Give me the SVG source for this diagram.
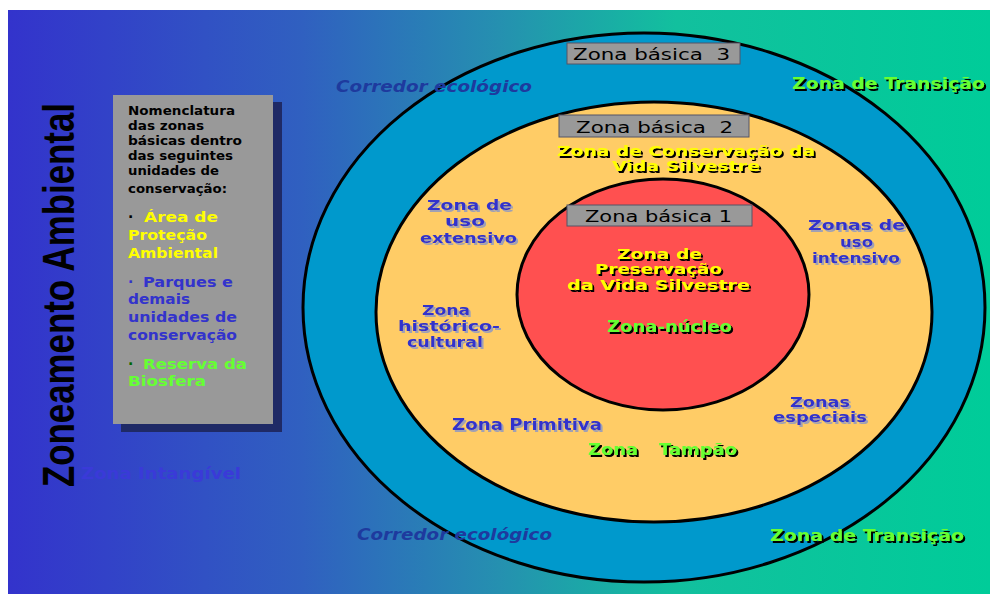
<svg xmlns="http://www.w3.org/2000/svg" width="990" height="594" viewBox="0 0 990 594">
<defs>
<linearGradient id="bg" x1="8" y1="0" x2="990" y2="0" gradientUnits="userSpaceOnUse">
<stop offset="0" stop-color="#3333CC"/>
<stop offset="0.3" stop-color="#3060C0"/>
<stop offset="0.5" stop-color="#2590B0"/>
<stop offset="0.68" stop-color="#12C09E"/>
<stop offset="1" stop-color="#00CC99"/>
</linearGradient>
<filter id="shK" x="-5%" y="-20%" width="115%" height="160%">
<feOffset in="SourceAlpha" dx="2" dy="2" result="o"/>
<feFlood flood-color="#000000"/>
<feComposite in2="o" operator="in" result="s"/>
<feMerge><feMergeNode in="s"/><feMergeNode in="SourceGraphic"/></feMerge>
</filter>
<filter id="shG" x="-5%" y="-20%" width="115%" height="160%">
<feOffset in="SourceAlpha" dx="2" dy="2" result="o"/>
<feFlood flood-color="#A0A0B4"/>
<feComposite in2="o" operator="in" result="s"/>
<feMerge><feMergeNode in="s"/><feMergeNode in="SourceGraphic"/></feMerge>
</filter>
</defs>
<style>
text{font-family:"DejaVu Sans",sans-serif;font-weight:bold;}
.ring{stroke:#000;stroke-width:3;}
.box{fill:#999999;stroke:#555566;stroke-width:1;}
.bt{font-weight:normal;font-size:16px;fill:#000;}
.pk{font-size:11.5px;fill:#000;}
.pl{font-size:14px;}
.lb{font-size:16px;fill:#3333CC;filter:url(#shG);}
.ly{font-size:16px;fill:#FFFF00;filter:url(#shK);}
.lg{font-size:16px;fill:#66FF33;filter:url(#shK);}
.lc{font-size:16px;fill:#1E3A9E;font-style:italic;}
.st{font-size:13.5px;}
</style>
<rect x="8" y="10" width="982" height="584" fill="url(#bg)"/>

<g id="title">
<text transform="translate(74,487) rotate(-90) scale(1,1.28)" font-size="35" fill="#000" textLength="384" lengthAdjust="spacingAndGlyphs" style="font-family:'Liberation Sans',sans-serif">Zoneamento Ambiental</text>
</g>

<g id="zona-intangivel">
<text x="81" y="479" font-size="16" fill="#3A3AD8" textLength="160" lengthAdjust="spacingAndGlyphs">Zona Intangível</text>
</g>

<g id="legend">
<rect x="121" y="102" width="161" height="330" fill="#1F2A66"/>
<rect x="113" y="95" width="160" height="329" fill="#999999"/>
<text class="pk" x="128" y="115" textLength="107" lengthAdjust="spacingAndGlyphs">Nomenclatura</text>
<text class="pk" x="128" y="130" textLength="76" lengthAdjust="spacingAndGlyphs">das zonas</text>
<text class="pk" x="128" y="145" textLength="114" lengthAdjust="spacingAndGlyphs">básicas dentro</text>
<text class="pk" x="128" y="160" textLength="105" lengthAdjust="spacingAndGlyphs">das seguintes</text>
<text class="pk" x="128" y="175" textLength="91" lengthAdjust="spacingAndGlyphs">unidades de</text>
<text class="pk" x="128" y="193" textLength="99" lengthAdjust="spacingAndGlyphs">conservação:</text>
<text class="pl" x="128" y="222" fill="#000">·</text>
<text class="pl" x="144" y="222" fill="#FFFF00" textLength="74" lengthAdjust="spacingAndGlyphs">Área de</text>
<text class="pl" x="128" y="240" fill="#FFFF00" textLength="79" lengthAdjust="spacingAndGlyphs">Proteção</text>
<text class="pl" x="128" y="258" fill="#FFFF00" textLength="90" lengthAdjust="spacingAndGlyphs">Ambiental</text>
<text class="pl" x="128" y="287" fill="#3333CC">·</text>
<text class="pl" x="143" y="287" fill="#3333CC" textLength="90" lengthAdjust="spacingAndGlyphs">Parques e</text>
<text class="pl" x="128" y="304" fill="#3333CC" textLength="62" lengthAdjust="spacingAndGlyphs">demais</text>
<text class="pl" x="128" y="322" fill="#3333CC" textLength="109" lengthAdjust="spacingAndGlyphs">unidades de</text>
<text class="pl" x="128" y="340" fill="#3333CC" textLength="109" lengthAdjust="spacingAndGlyphs">conservação</text>
<text class="pl" x="128" y="369" fill="#006600">·</text>
<text class="pl" x="143" y="369" fill="#66FF33" textLength="104" lengthAdjust="spacingAndGlyphs">Reserva da</text>
<text class="pl" x="128" y="386" fill="#66FF33" textLength="78" lengthAdjust="spacingAndGlyphs">Biosfera</text>
</g>

<g id="zona-basica-3">
<ellipse class="ring" cx="644" cy="307.5" rx="341" ry="274.5" fill="#0099CC"/>
</g>
<g id="zona-basica-2">
<ellipse class="ring" cx="654" cy="312" rx="278" ry="210" fill="#FFCC66"/>
</g>
<g id="zona-basica-1">
<ellipse class="ring" cx="663" cy="294.5" rx="146" ry="115.5" fill="#FF5050"/>
</g>

<g id="box-3">
<rect class="box" x="567" y="43" width="173" height="21"/>
<text class="bt" x="573" y="60" textLength="157" lengthAdjust="spacingAndGlyphs" xml:space="preserve">Zona básica  3</text>
</g>
<g id="box-2">
<rect class="box" x="559" y="115" width="190" height="22"/>
<text class="bt" x="576" y="133" textLength="157" lengthAdjust="spacingAndGlyphs" xml:space="preserve">Zona básica  2</text>
</g>
<g id="box-1">
<rect class="box" x="567" y="205" width="185" height="21"/>
<text class="bt" x="585" y="222" textLength="147" lengthAdjust="spacingAndGlyphs">Zona básica 1</text>
</g>

<g id="corredor-top"><text class="lc" x="336" y="92" textLength="196" lengthAdjust="spacingAndGlyphs">Corredor ecológico</text></g>
<g id="corredor-bottom"><text class="lc" x="357" y="540" textLength="195" lengthAdjust="spacingAndGlyphs">Corredor ecológico</text></g>
<g id="transicao-top"><text class="lg" x="792" y="89" textLength="193" lengthAdjust="spacingAndGlyphs">Zona de Transição</text></g>
<g id="transicao-bottom"><text class="lg" x="770" y="541" textLength="194" lengthAdjust="spacingAndGlyphs">Zona de Transição</text></g>

<g id="conservacao">
<text class="ly st" x="557" y="156" textLength="258" lengthAdjust="spacingAndGlyphs">Zona de Conservação da</text>
<text class="ly st" x="612" y="171" textLength="148" lengthAdjust="spacingAndGlyphs">Vida Silvestre</text>
</g>

<g id="uso-extensivo">
<text class="lb st" x="427" y="210" textLength="85" lengthAdjust="spacingAndGlyphs">Zona de</text>
<text class="lb st" x="445" y="226" textLength="40" lengthAdjust="spacingAndGlyphs">uso</text>
<text class="lb st" x="420" y="243" textLength="97" lengthAdjust="spacingAndGlyphs">extensivo</text>
</g>

<g id="historico-cultural">
<text class="lb st" x="422" y="315" textLength="48" lengthAdjust="spacingAndGlyphs">Zona</text>
<text class="lb st" x="398" y="331" textLength="102" lengthAdjust="spacingAndGlyphs">histórico-</text>
<text class="lb st" x="407" y="347" textLength="76" lengthAdjust="spacingAndGlyphs">cultural</text>
</g>

<g id="preservacao">
<text class="ly st" x="617" y="259" textLength="85" lengthAdjust="spacingAndGlyphs">Zona de</text>
<text class="ly st" x="595" y="274" textLength="127" lengthAdjust="spacingAndGlyphs">Preservação</text>
<text class="ly st" x="567" y="290" textLength="183" lengthAdjust="spacingAndGlyphs">da Vida Silvestre</text>
</g>

<g id="zona-nucleo"><text class="lg" x="607" y="332" textLength="125" lengthAdjust="spacingAndGlyphs">Zona-núcleo</text></g>

<g id="uso-intensivo">
<text class="lb st" x="808" y="230" textLength="97" lengthAdjust="spacingAndGlyphs">Zonas de</text>
<text class="lb st" x="840" y="247" textLength="33" lengthAdjust="spacingAndGlyphs">uso</text>
<text class="lb st" x="812" y="263" textLength="88" lengthAdjust="spacingAndGlyphs">intensivo</text>
</g>

<g id="zona-primitiva"><text class="lb" x="452" y="430" textLength="150" lengthAdjust="spacingAndGlyphs">Zona Primitiva</text></g>

<g id="zona-tampao">
<text class="lg" x="588" y="455" textLength="50" lengthAdjust="spacingAndGlyphs">Zona</text>
<text class="lg" x="659" y="455" textLength="78" lengthAdjust="spacingAndGlyphs">Tampão</text>
</g>

<g id="zonas-especiais">
<text class="lb st" x="790" y="407" textLength="60" lengthAdjust="spacingAndGlyphs">Zonas</text>
<text class="lb st" x="773" y="422" textLength="94" lengthAdjust="spacingAndGlyphs">especiais</text>
</g>

<g id="connectors"></g>
</svg>
